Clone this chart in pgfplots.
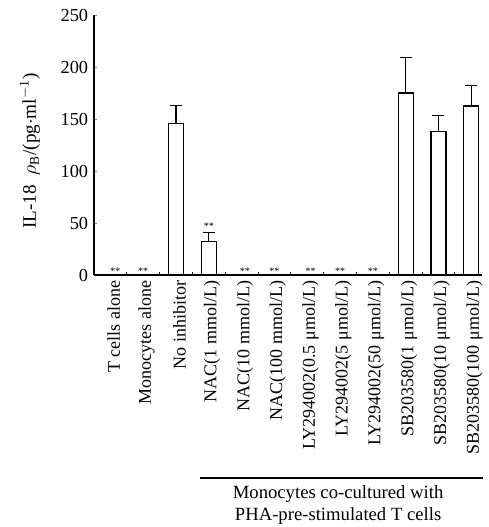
\documentclass[border=0pt]{standalone}
\usepackage{pgfplots}
\pgfplotsset{compat=1.18}
\usepackage{fontspec}
\setmainfont{Liberation Serif}
\begin{document}
\begin{tikzpicture}
\begin{axis}[
  scale only axis,
  width=232.8pt, height=156pt,
  xmin=-0.5, xmax=11.33,
  ymin=0, ymax=250,
  clip=false,
  axis x line=bottom, axis y line=left,
  axis line style={-, line width=1pt},
  tick align=inside,
  ytick={0,50,100,150,200,250},
  major tick length=2pt,
  minor tick length=1.8pt,
  xtick={0,1,2,3,4,5,6,7,8,9,10,11},
  minor xtick={0.5,1.5,2.5,3.5,4.5,5.5,6.5,7.5,8.5,9.5,10.5},
  x tick style={draw=none},
  minor x tick style={draw=black, line width=0.6pt},
  y tick style={line width=0.6pt},
  xticklabels={T cells alone, Monocytes alone, No inhibitor, NAC(1 mmol/L), NAC(10 mmol/L), NAC(100 mmol/L), LY294002(0.5 μmol/L), LY294002(5 μmol/L), LY294002(50 μmol/L), SB203580(1 μmol/L), SB203580(10 μmol/L), SB203580(100 μmol/L)},
  xticklabel style={rotate=90, anchor=east, font=\fontsize{10.8}{13}\selectfont, yshift=-2pt},
  yticklabel style={font=\fontsize{11}{13}\selectfont},
  /pgf/number format/assume math mode=true,
  ylabel={IL-18\ \ $\rho_{\mathrm{B}}$/(pg$\cdot$ml$^{-1}$)},
  ylabel style={at={(axis description cs:-0.165,0.477)}, anchor=center, font=\fontsize{11.5}{13}\selectfont},
]
\addplot[ybar, bar width=9pt, fill=white, draw=black, line width=0.7pt,
  error bars/.cd, y dir=plus, y explicit,
  error bar style={line width=0.7pt},
  error mark options={rotate=90, mark size=3.6pt, line width=0.7pt}]
coordinates {
 (0,0) +- (0,0)
 (1,0) +- (0,0)
 (2,146) +- (0,17)
 (3,32) +- (0,8.5)
 (4,0) +- (0,0)
 (5,0) +- (0,0)
 (6,0) +- (0,0)
 (7,0) +- (0,0)
 (8,0) +- (0,0)
 (9,175) +- (0,34)
 (10,138) +- (0,15)
 (11,162.5) +- (0,19.5)
};
\addplot[draw=none, mark=none, nodes near coords, point meta=explicit symbolic,
  nodes near coords align={center},
  every node near coord/.append style={font=\fontsize{6}{7}\selectfont, inner sep=0pt, anchor=center}]
coordinates {
 (0.15,4) [**]
 (1,4) [**]
 (3,47) [**]
 (4.1,4) [**]
 (5,4) [**]
 (6.1,4) [**]
 (7,4) [**]
 (8,4) [**]
};
\draw[line width=0.8pt] (rel axis cs:0.273,-0.781) -- (rel axis cs:1.0026,-0.781);
\node[anchor=north, align=center, font=\fontsize{11.2}{13.2}\selectfont, inner sep=0pt]
  at (rel axis cs:0.629,-0.81) {Monocytes co-cultured with\\PHA-pre-stimulated T cells};
\path (rel axis cs:-0.2423,-0.969) rectangle (rel axis cs:1.0026,1.0577);
\end{axis}
\end{tikzpicture}
\end{document}
